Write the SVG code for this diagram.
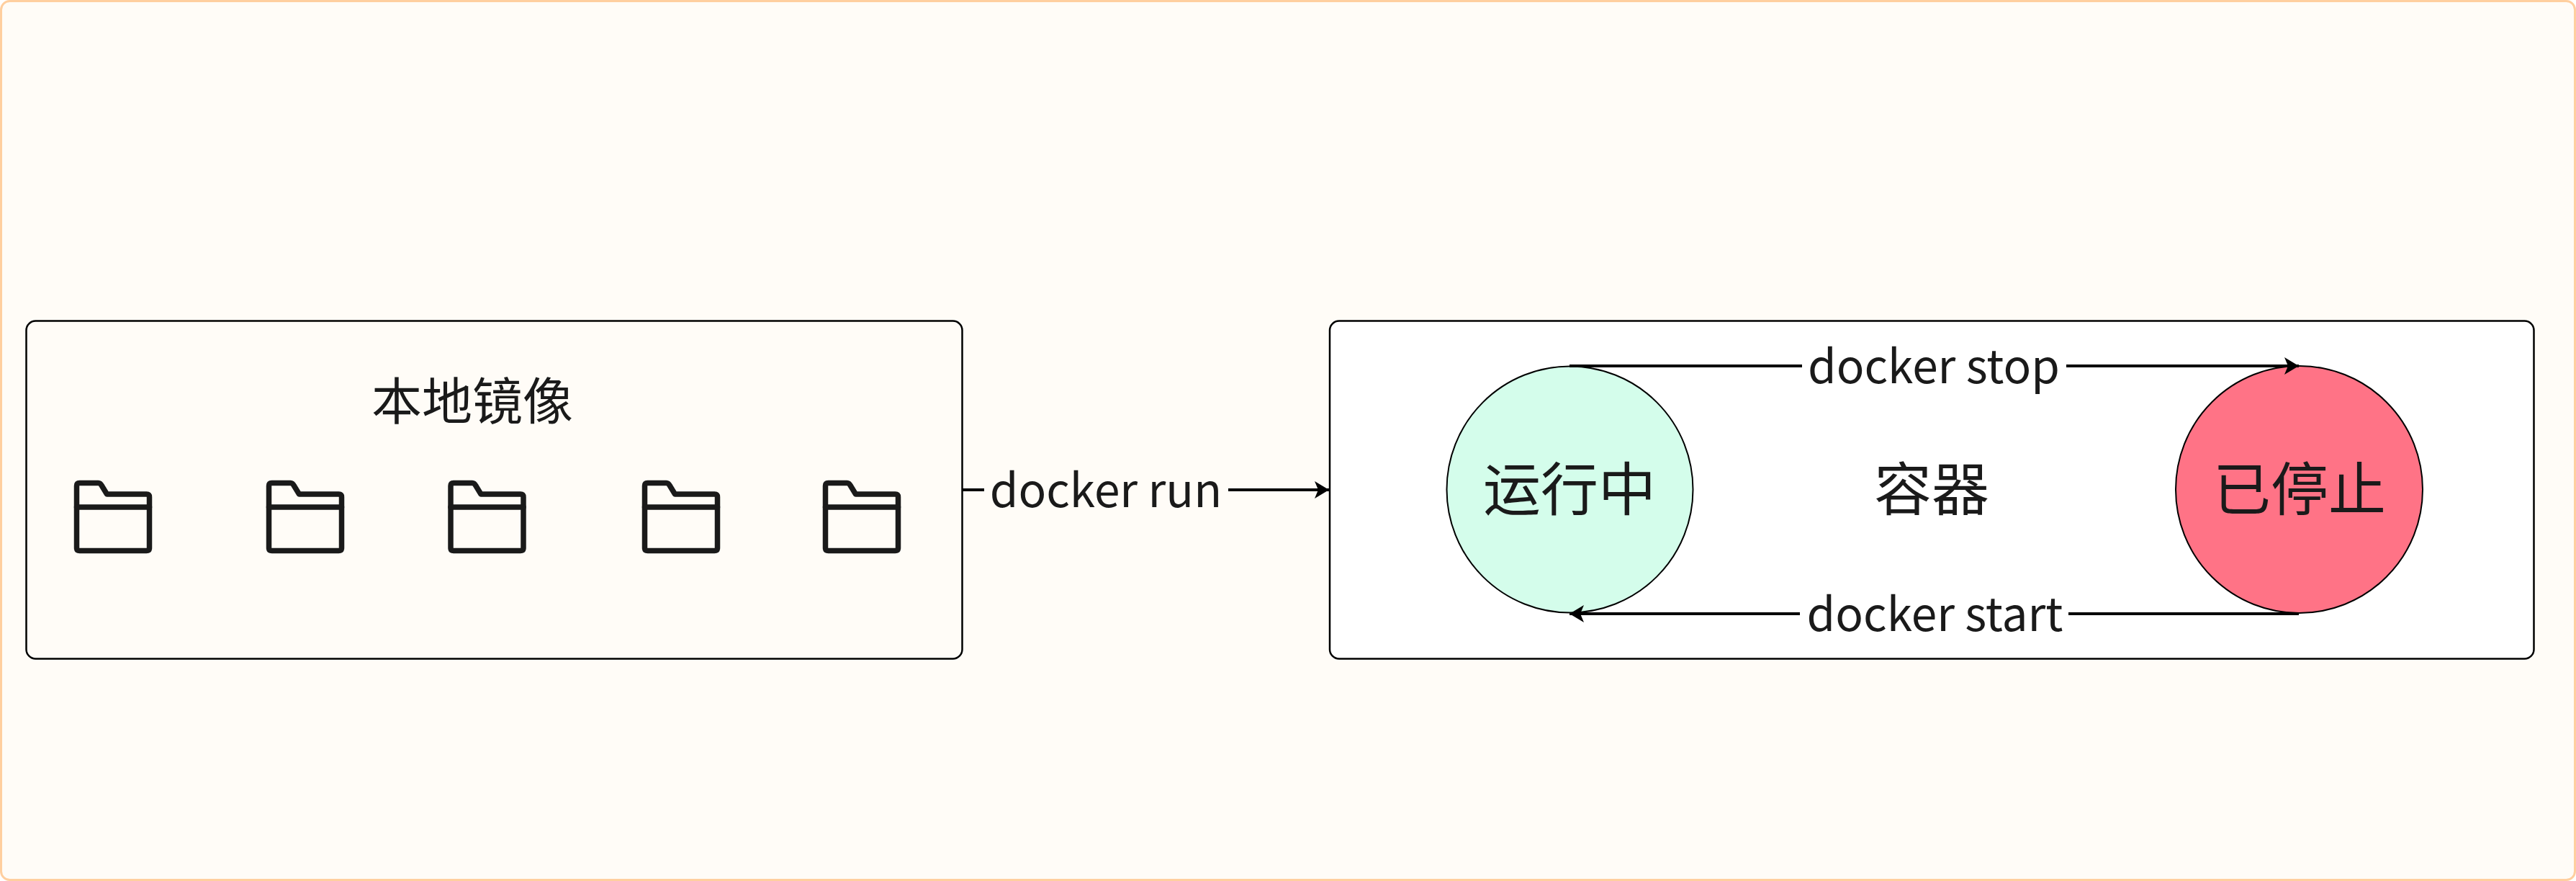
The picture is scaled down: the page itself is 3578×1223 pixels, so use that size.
<svg xmlns="http://www.w3.org/2000/svg" width="3578" height="1223" viewBox="0 0 3578 1223">
<defs>
<marker id="arrow" markerUnits="userSpaceOnUse" markerWidth="22" markerHeight="26" refX="20" refY="13" orient="auto"><path d="M0 1L20 13L0 25L5 13Z" fill="#000"/></marker>
<g id="folder" fill="none" stroke="#1a1a1a" stroke-width="7.500" stroke-linejoin="round" stroke-linecap="round"><path d="M4 0H30Q33 0 35 4L42 15.500H97Q101 15.500 101 19.500V90Q101 94 97 94H4Q0 94 0 90V4Q0 0 4 0Z"/><path d="M0 33.500H101"/></g>
</defs>
<style>
.t{font-family:"Noto Sans CJK SC","Noto Sans",sans-serif;fill:#1a1a1a;text-anchor:middle}
.l{font-size:64px}
.n{font-size:80px}
.b{stroke:#000;stroke-width:2.500}
.c{fill:none;stroke:#000;stroke-width:4}
</style>
<rect x="1.500" y="1.500" width="3575" height="1220" rx="12" fill="#fffcf7" stroke="#ffcf9f" stroke-width="3"/>
<g id="images"><rect class="b" fill="#fffcf7" x="36.500" y="445.500" width="1300" height="469" rx="13"/><text class="t" x="656" y="583" style="font-size:70px">本地镜像</text>
<use href="#folder" x="106.500" y="670.500"/><use href="#folder" x="373.500" y="670.500"/><use href="#folder" x="626" y="670.500"/><use href="#folder" x="895.500" y="670.500"/><use href="#folder" x="1146.500" y="670.500"/></g>
<g id="container"><rect class="b" fill="#fff" x="1847" y="445.500" width="1672.500" height="469" rx="13"/><text class="t n" x="2683" y="708">容器</text></g>
<g id="running"><circle cx="2180.500" cy="679.500" r="171" fill="#d4fdeb" stroke="#000" stroke-width="2"/><text class="t n" x="2180" y="708">运行中</text></g>
<g id="stopped"><circle cx="3193.500" cy="679.500" r="171.500" fill="#ff7386" stroke="#000" stroke-width="2"/><text class="t n" x="3194" y="708">已停止</text></g>
<g id="connectors">
<path class="c" d="M1337 680H1367"/>
<path class="c" d="M1706 680H1846" marker-end="url(#arrow)"/>
<path class="c" d="M2180 508H2503"/>
<path class="c" d="M2870 508H3193" marker-end="url(#arrow)"/>
<path class="c" d="M3193 852H2873"/>
<path class="c" d="M2500 852H2180" marker-end="url(#arrow)"/>
</g>
<text class="t l" x="1536" y="704">docker run</text>
<text class="t l" x="2686" y="532">docker stop</text>
<text class="t l" x="2687.500" y="876">docker start</text>
</svg>
